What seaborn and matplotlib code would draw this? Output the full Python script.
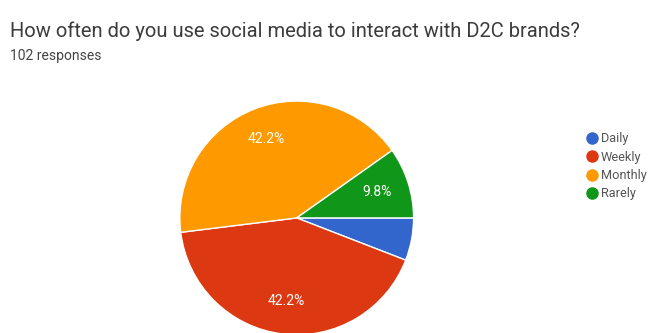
import matplotlib
matplotlib.use("Agg")
import matplotlib.pyplot as plt
import seaborn as sns
from matplotlib.lines import Line2D

categories = ["Daily", "Weekly", "Monthly", "Rarely"]
counts = [6, 43, 43, 10]
colors = ["#3366CC", "#DC3912", "#FF9900", "#109618"]
title = "How often do you use social media to interact with D2C brands?"
subtitle = "102 responses"

sns.set_theme(style="white")
plt.rcParams["font.family"] = ["Roboto", "DejaVu Sans"]

fig = plt.figure(figsize=(6.66, 3.33), dpi=100)
fig.patch.set_facecolor("white")

ax = fig.add_axes([0.270, -0.006, 0.351, 0.703])

def fmt(p):
    return f"{p:.1f}%" if p >= 8 else ""

wedges, texts, autotexts = ax.pie(
    counts, colors=colors, startangle=0, counterclock=False,
    autopct=fmt, pctdistance=0.72,
    wedgeprops=dict(edgecolor="white", linewidth=1),
    textprops=dict(color="white", fontsize=10),
)
ax.set_xlim(-1, 1)
ax.set_ylim(-1, 1)
ax.set_aspect("equal")
ax.axis("off")

fig.text(0.015, 0.905, title, fontsize=14.5, color="#3c3c3c", va="center", ha="left")
fig.text(0.015, 0.833, subtitle, fontsize=10, color="#444444", va="center", ha="left")

handles = [Line2D([0], [0], marker="o", linestyle="", markerfacecolor=c,
                  markeredgecolor=c, markersize=8) for c in colors]
leg = fig.legend(handles, categories, loc="upper left",
                 bbox_to_anchor=(0.872, 0.618), frameon=False,
                 fontsize=9.2, handletextpad=0.15, labelspacing=0.42,
                 handlelength=1.0, borderaxespad=0)
for t in leg.get_texts():
    t.set_color("#555555")

fig.savefig("out.png", dpi=100, facecolor="white")
